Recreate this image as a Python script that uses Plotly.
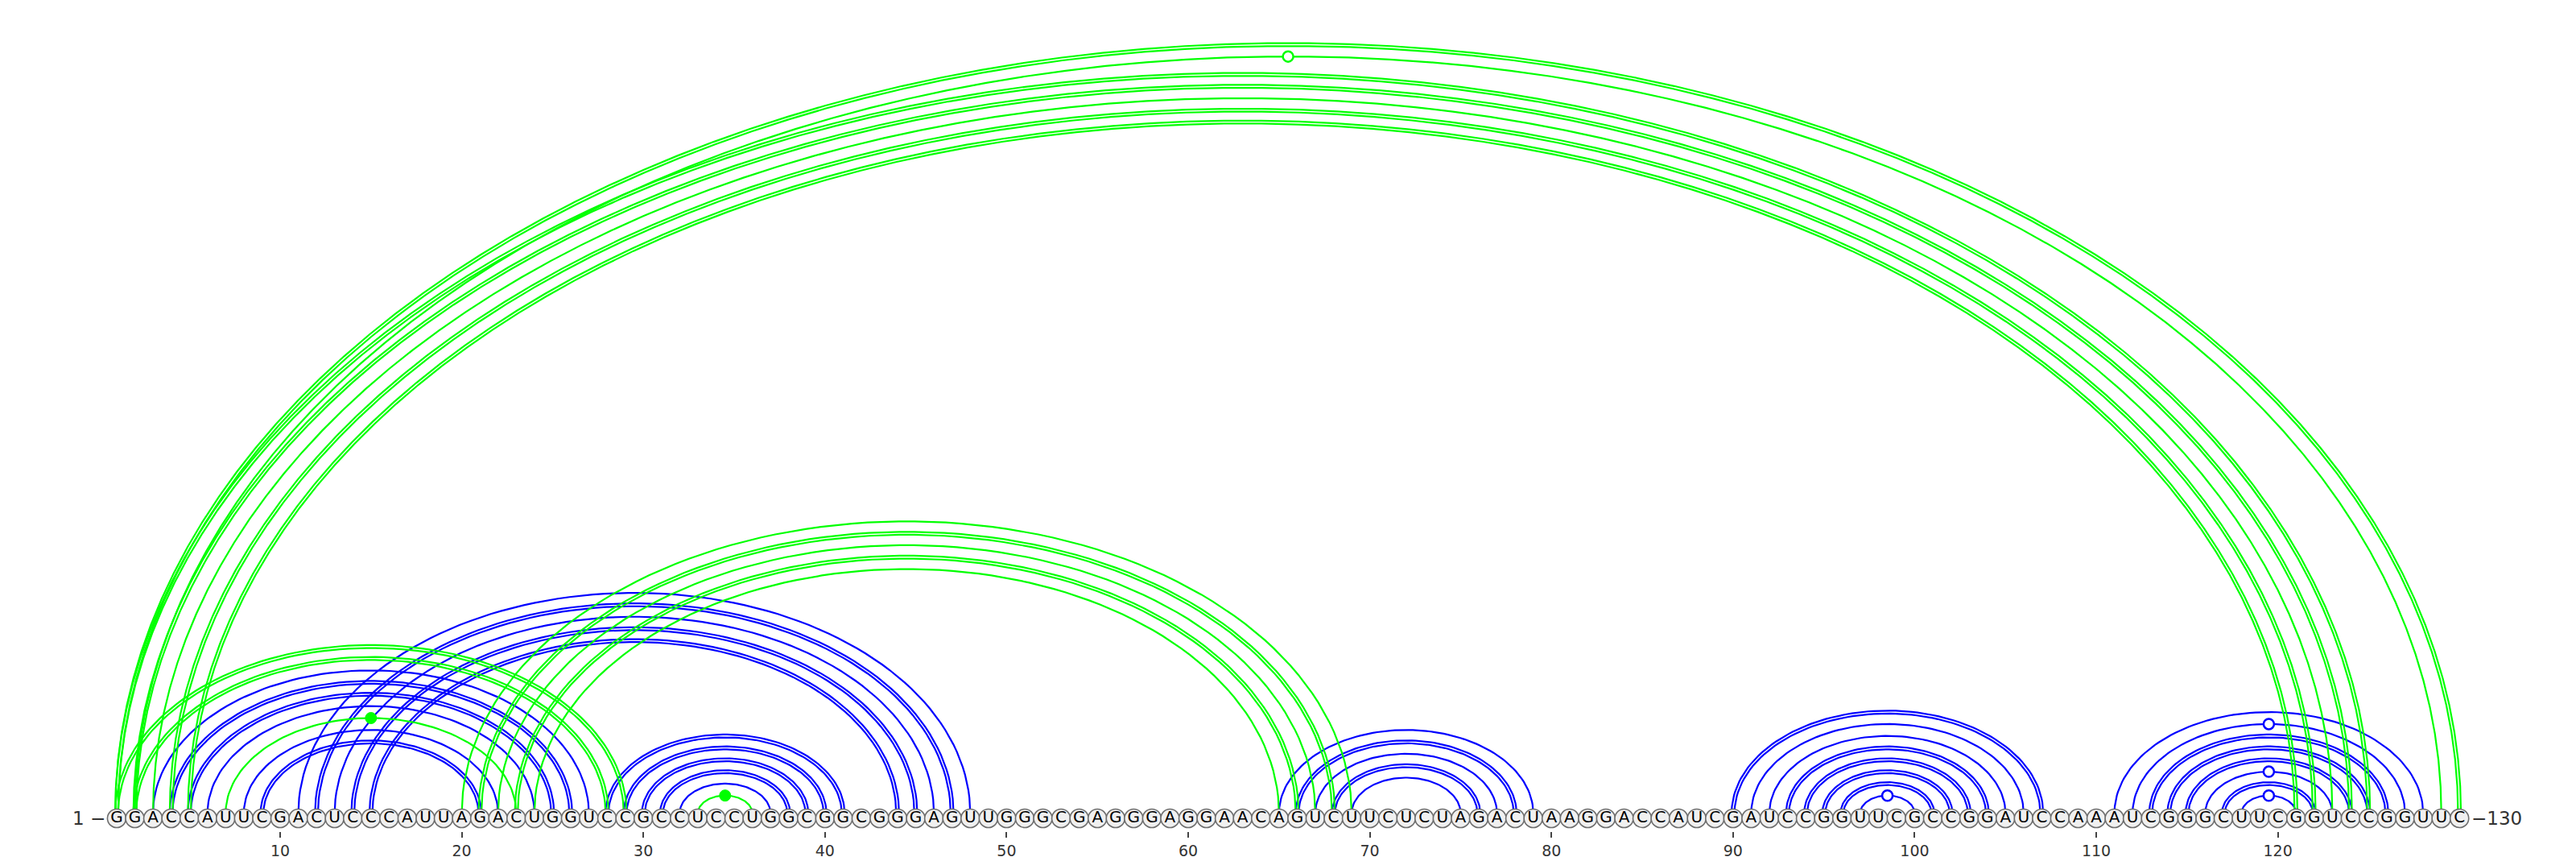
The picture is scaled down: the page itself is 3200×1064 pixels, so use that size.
import numpy as np
import plotly.graph_objects as go

# sequence, in blocks of ten
seq_blocks = ["GGACCAUUCG", "ACUCCCAUUA", "GACUGGUCCG", "CCUCCUGGCG", "GCGGGAGUUG",
              "GGCGAGGGAG", "GAACAGUCUU", "CUCUAGACUA", "AGGACCAUCG", "AUCCGGUUCG",
              "CCGGAUCCAA", "AUCGGGCUUC", "GGUCCGGUUC"]
sequence = "".join(seq_blocks)
positions = list(range(1, len(sequence) + 1))
tick_vals = list(range(10, 130, 10))

# green pairs (i, j) and how many strokes each arc has
green_i = [1, 2, 1, 2, 3, 4, 5, 1, 2, 7, 20, 21, 22, 23, 24, 33]
green_j = [130, 129, 125, 124, 123, 122, 121, 29, 28, 23, 69, 68, 67, 66, 65, 36]
green_n = [2, 1, 2, 2, 1, 2, 2, 2, 2, 1, 1, 2, 1, 2, 1, 1]

# blue pairs
blue_i = [3, 4, 5, 6, 8, 9,
          11, 12, 13, 14, 15,
          28, 29, 30, 31, 32,
          65, 66, 67, 68, 69,
          90, 91, 92, 93, 94, 95, 96, 97,
          111, 112, 113, 114, 115, 116, 117, 118]
blue_j = [27, 26, 25, 24, 22, 21,
          48, 47, 46, 45, 44,
          41, 40, 39, 38, 37,
          79, 78, 77, 76, 75,
          107, 106, 105, 104, 103, 102, 101, 100,
          128, 127, 126, 125, 124, 123, 122, 121]
blue_n = [1, 2, 2, 1, 1, 2,
          1, 2, 1, 2, 2,
          2, 2, 2, 2, 1,
          1, 2, 1, 2, 1,
          2, 1, 1, 2, 2, 2, 2, 1,
          1, 1, 2, 2, 2, 1, 2, 1]

GREEN = "#00ff00"
BLUE = "#0000ff"
BASE = 0.27      # arcs start just above the nucleotide centres
RATIO = 0.656    # arc height / half width
GAP = 0.08       # half gap of a double stroke

watson_crick = {"AU", "UA", "GC", "CG"}
wobble = {"GU", "UG"}


def arc_traces(ii, jj, nn, color):
    xs, ys = [], []
    open_x, open_y, fill_x, fill_y = [], [], [], []
    t = np.linspace(0, np.pi, 90)
    for i, j, n in zip(ii, jj, nn):
        c = (i + j) / 2
        rx = (j - i) / 2
        ry = rx * RATIO
        offs = [0] if n == 1 else [-GAP, GAP]
        for o in offs:
            xs += list(c + (rx + o) * np.cos(t)) + [None]
            ys += list(BASE + (ry + o) * np.sin(t)) + [None]
        pair = sequence[i - 1] + sequence[j - 1]
        if pair in wobble:
            open_x.append(c)
            open_y.append(BASE + ry)
        elif pair not in watson_crick:
            fill_x.append(c)
            fill_y.append(BASE + ry)
    out = [go.Scatter(x=xs, y=ys, mode="lines", line=dict(color=color, width=2.2),
                      hoverinfo="skip", showlegend=False)]
    if open_x:
        out.append(go.Scatter(x=open_x, y=open_y, mode="markers", showlegend=False,
                              marker=dict(size=13, color="white", line=dict(color=color, width=2.5)),
                              hoverinfo="skip"))
    if fill_x:
        out.append(go.Scatter(x=fill_x, y=fill_y, mode="markers", showlegend=False,
                              marker=dict(size=14, color=color, line=dict(color=color, width=1)),
                              hoverinfo="skip"))
    return out


fig = go.Figure()
for tr in arc_traces(blue_i, blue_j, blue_n, BLUE):
    fig.add_trace(tr)
for tr in arc_traces(green_i, green_j, green_n, GREEN):
    fig.add_trace(tr)

# nucleotides
fig.add_trace(go.Scatter(
    x=positions, y=[0] * len(positions), mode="markers+text",
    text=list(sequence), textposition="middle center",
    textfont=dict(family="DejaVu Sans", size=20, color="black"),
    marker=dict(size=23, color="#f0f0f0", line=dict(color="#6e6e6e", width=1.6)),
    cliponaxis=False, showlegend=False, hoverinfo="skip"))

fig.add_annotation(x=0.45, y=0, text="1 \u2212", showarrow=False, xanchor="right",
                   font=dict(family="DejaVu Sans", size=23, color="#333"))
fig.add_annotation(x=130.57, y=0, text="\u2212130", showarrow=False, xanchor="left",
                   font=dict(family="DejaVu Sans", size=23, color="#333"))

fig.update_xaxes(range=[-5.07, 136.77], tickvals=tick_vals, ticks="outside", ticklen=7,
                 tickwidth=1.5, tickcolor="#444", showgrid=False, zeroline=False,
                 showline=False, tickfont=dict(family="DejaVu Sans", size=19, color="#333"))
fig.update_yaxes(range=[-0.71, 44.68], visible=False)
fig.update_layout(width=3200, height=1064, margin=dict(l=0, r=0, t=0, b=40),
                  plot_bgcolor="white", paper_bgcolor="white")

fig.write_html("out.html")
